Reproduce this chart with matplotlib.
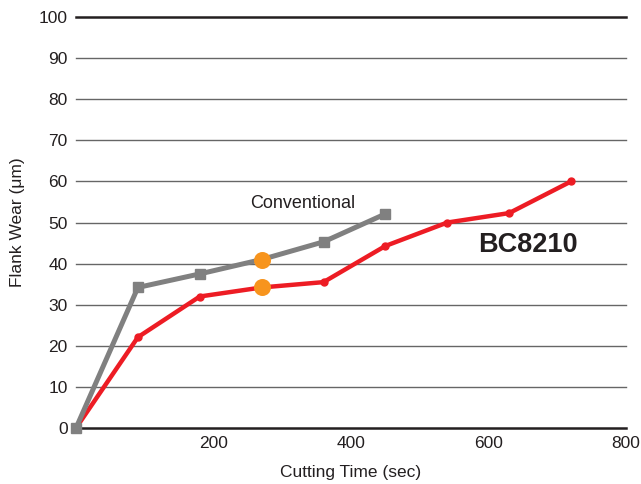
import matplotlib.pyplot as plt
import numpy as np

plt.rcParams['font.family'] = ['Liberation Sans', 'DejaVu Sans']

# data
time_conv = [0, 90, 180, 270, 360, 450]
wear_conv = [0, 34.2, 37.5, 41.0, 45.3, 52.1]
time_bc = [0, 90, 180, 270, 360, 450, 540, 630, 720]
wear_bc = [0, 22.1, 32.0, 34.2, 35.5, 44.3, 50.0, 52.3, 60.0]
highlight_time = [270, 270]
highlight_wear = [41.0, 34.2]

y_ticks = [0, 10, 20, 30, 40, 50, 60, 70, 80, 90, 100]
x_ticks = [200, 400, 600, 800]

fig = plt.figure(figsize=(6.41, 4.84), dpi=100)
ax = fig.add_axes([0.1186, 0.1157, 0.858, 0.849])

# horizontal grid lines
for y in y_ticks:
    if y in (0, 100):
        ax.axhline(y, color='#231f20', lw=1.8, zorder=1)
    else:
        ax.axhline(y, color='#666666', lw=1.0, zorder=1)

ax.plot(time_bc, wear_bc, color='#ed1c24', lw=3.2, marker='o', ms=5,
        zorder=3, solid_capstyle='butt')
ax.plot(time_conv, wear_conv, color='#808080', lw=3.6, marker='s', ms=6.5,
        zorder=4, solid_capstyle='butt')
ax.scatter(highlight_time, highlight_wear, s=150, color='#f7941d', zorder=5,
           linewidths=0)

ax.text(330, 54.6, 'Conventional', fontsize=13, color='#231f20',
        ha='center', va='center')
ax.text(657, 44.6, 'BC8210', fontsize=19.5, fontweight='bold', color='#231f20',
        ha='center', va='center', zorder=6,
        bbox=dict(facecolor='white', edgecolor='none', pad=3))

ax.set_xlim(0, 800)
ax.set_ylim(0, 100)
ax.set_yticks(y_ticks)
ax.set_xticks(x_ticks)
ax.tick_params(length=0, labelsize=12.5, colors='#231f20', pad=6)
for s in ax.spines.values():
    s.set_visible(False)

ax.set_xlabel('Cutting Time (sec)', fontsize=12.5, color='#231f20', labelpad=10)
ax.set_ylabel('Flank Wear (μm)', fontsize=12.5, color='#231f20', labelpad=10)

for a in ax.lines + ax.collections:
    a.set_clip_on(False)

fig.savefig('out.png', dpi=100)
